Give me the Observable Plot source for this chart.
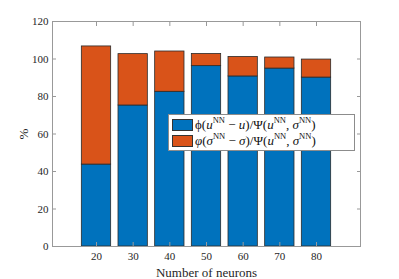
<!DOCTYPE html>
<html><head><meta charset="utf-8">
<script src="https://cdn.jsdelivr.net/npm/d3@7"></script>
<script src="https://cdn.jsdelivr.net/npm/@observablehq/plot@0.6"></script>
<style>
body{margin:0;background:#fff;}
#wrap{position:relative;width:399px;height:279px;font-family:"Liberation Serif","Times New Roman","DejaVu Serif",serif;}
#wrap svg text{font-family:"Liberation Serif","Times New Roman","DejaVu Serif",serif !important;}
#legend{position:absolute;left:168px;top:114px;width:187px;height:37px;background:#fff;border:1px solid #8c8c8c;box-sizing:border-box;font-size:13px;color:#111;}
.row{position:absolute;left:3px;height:14px;display:flex;align-items:center;white-space:nowrap;}
.sw{width:21px;height:12px;border:1px solid #333;box-sizing:border-box;margin-right:2px;}
.row i{font-style:italic;}
.row sup{font-size:8.5px;vertical-align:6px;line-height:0;}
</style></head>
<body><div id="wrap"></div>
<script>
const neurons = [20, 30, 40, 50, 60, 70, 80];
const phiShare = [43.7, 75.2, 82.5, 96.2, 90.7, 94.9, 90.1];
const varphiShare = [63.0, 27.4, 21.5, 6.5, 10.4, 5.9, 9.6];
const yTicks = [0, 20, 40, 60, 80, 100, 120];
const seriesNames = ["phi", "varphi"];
const colors = ["#0072BD", "#D95319"];

const rows = [];
neurons.forEach((n, i) => {
  rows.push({x1: n - 4, x2: n + 4, y: phiShare[i], s: seriesNames[0]});
  rows.push({x1: n - 4, x2: n + 4, y: varphiShare[i], s: seriesNames[1]});
});
const blank = () => "";
const serif = "Liberation Serif";

const chart = Plot.plot({
  width: 399, height: 279,
  marginLeft: 52, marginRight: 39, marginTop: 21, marginBottom: 33,
  style: {fontFamily: "'Liberation Serif', 'Times New Roman', serif", fontSize: "11px", color: "#262626", background: "#fff"},
  x: {domain: [8, 92]},
  y: {domain: [0, 120]},
  color: {domain: seriesNames, range: colors},
  marks: [
    Plot.rectY(rows, {x1: "x1", x2: "x2", y: "y", fill: "s", stroke: "#2b2b2b", strokeWidth: 0.8}),
    Plot.frame({stroke: "#999", strokeWidth: 1}),
    Plot.axisX({anchor: "bottom", ticks: neurons, tickSize: -4, tickFormat: blank, label: null, stroke: "#999"}),
    Plot.axisX({anchor: "top", ticks: neurons, tickSize: -4, tickFormat: blank, label: null, stroke: "#999"}),
    Plot.axisY({anchor: "left", ticks: yTicks, tickSize: -4, tickFormat: blank, label: null, stroke: "#999"}),
    Plot.axisY({anchor: "right", ticks: yTicks, tickSize: -4, tickFormat: blank, label: null, stroke: "#999"}),
    Plot.axisX({anchor: "bottom", ticks: neurons, tickSize: 0, tickPadding: 6, fontSize: 11, fontFamily: serif,
      label: "Number of neurons", labelAnchor: "center", labelArrow: "none", labelOffset: 30}),
    Plot.axisY({anchor: "left", ticks: yTicks, tickSize: 0, tickPadding: 4, fontSize: 11, fontFamily: serif,
      label: "%", labelAnchor: "center", labelArrow: "none", labelOffset: 34})
  ]
});
chart.querySelectorAll("[aria-label='x-axis label'] text, [aria-label='y-axis label'] text").forEach(t => t.setAttribute("font-size", "13"));
const wrap = document.getElementById("wrap");
wrap.appendChild(chart);

const legend = document.createElement("div");
legend.id = "legend";
legend.innerHTML =
  `<div class="row" style="top:3px"><span class="sw" style="background:${colors[0]}"></span>` +
  `<span>&#x3D5;(<i>u</i><sup>NN</sup> &minus; <i>u</i>)/&Psi;(<i>u</i><sup>NN</sup>, <i>&sigma;</i><sup>NN</sup>)</span></div>` +
  `<div class="row" style="top:19px"><span class="sw" style="background:${colors[1]}"></span>` +
  `<span><i>&#x3C6;</i>(<i>&sigma;</i><sup>NN</sup> &minus; <i>&sigma;</i>)/&Psi;(<i>u</i><sup>NN</sup>, <i>&sigma;</i><sup>NN</sup>)</span></div>`;
wrap.appendChild(legend);
</script></body></html>
